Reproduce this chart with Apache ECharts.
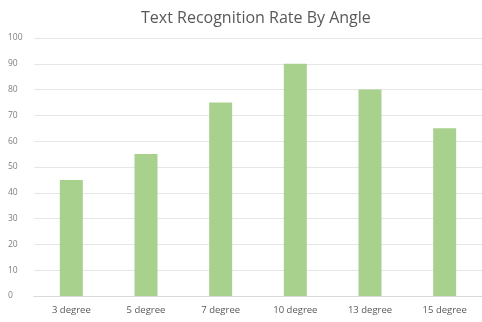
<!DOCTYPE html>
<html><head><meta charset="utf-8">
<script src="https://cdn.jsdelivr.net/npm/echarts@6/dist/echarts.min.js"></script>
<style>html,body{margin:0;padding:0;background:#fff}#c{width:482px;height:322px}</style>
</head><body><div id="c"></div>
<script>
const categories = ['3 degree','5 degree','7 degree','10 degree','13 degree','15 degree'];
const values = [45, 55, 75, 90, 80, 65];
const chart = echarts.init(document.getElementById('c'));
chart.setOption({
  animation: false,
  title: {text: 'Text Recognition Rate By Angle', left: 136, top: 5,
    textStyle: {fontFamily: 'Open Sans', fontSize: 16, fontWeight: 'normal', color: '#595959'}},
  grid: {left: 34, right: 0, top: 38, bottom: 26},
  xAxis: {type: 'category', data: categories,
    axisLine: {lineStyle: {color: '#d9d9d9'}}, axisTick: {show: false},
    axisLabel: {color: '#595959', fontSize: 9.5, fontFamily: 'Open Sans', margin: 9}},
  yAxis: {type: 'value', min: 0, max: 100, interval: 10,
    axisLabel: {color: '#7f7f7f', fontSize: 8.5, fontFamily: 'Open Sans', margin: 26, align: 'left'},
    splitLine: {lineStyle: {color: '#e6e6e6'}}},
  series: [{type: 'bar', data: values, barWidth: 23, itemStyle: {color: '#a9d18e'}}]
});
</script></body></html>
